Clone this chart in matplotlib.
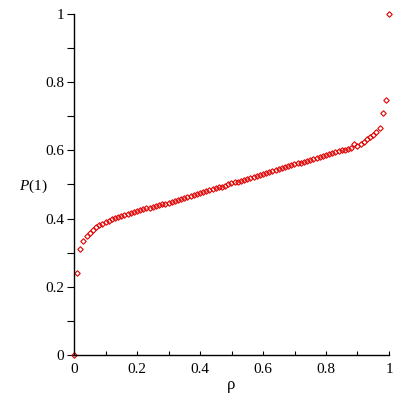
import matplotlib
matplotlib.use("Agg")
import matplotlib.pyplot as plt
from matplotlib.ticker import MultipleLocator

rho = [i / 100 for i in range(101)]
p1 = [0.0, 0.240, 0.310, 0.333, 0.348, 0.358, 0.367, 0.374, 0.380, 0.385,
      0.390, 0.394, 0.398, 0.402, 0.405, 0.409, 0.412, 0.414, 0.417, 0.420,
      0.422, 0.425, 0.427, 0.430, 0.432, 0.434, 0.437, 0.439, 0.442, 0.444,
      0.447, 0.450, 0.452, 0.455, 0.458, 0.461, 0.463, 0.466, 0.469, 0.472,
      0.475, 0.478, 0.480, 0.483, 0.486, 0.489, 0.492, 0.494, 0.497, 0.500,
      0.503, 0.506, 0.508, 0.511, 0.514, 0.517, 0.520, 0.522, 0.525, 0.528,
      0.531, 0.534, 0.536, 0.539, 0.542, 0.545, 0.548, 0.550, 0.553, 0.556,
      0.559, 0.562, 0.564, 0.567, 0.570, 0.573, 0.576, 0.578, 0.581, 0.584,
      0.587, 0.590, 0.593, 0.595, 0.598, 0.600, 0.602, 0.604, 0.606, 0.620,
      0.613, 0.619, 0.625, 0.632, 0.638, 0.646, 0.655, 0.667, 0.709, 0.747,
      1.0]

xticks = [0, 0.2, 0.4, 0.6, 0.8, 1]
xticklabels = ["0", "0.2", "0.4", "0.6", "0.8", "1"]
yticks = [0, 0.2, 0.4, 0.6, 0.8, 1]
yticklabels = ["0", "0.2", "0.4", "0.6", "0.8", "1"]

plt.rcParams['font.family'] = ['Liberation Serif', 'DejaVu Serif']
plt.rcParams['mathtext.fontset'] = 'custom'
plt.rcParams['mathtext.rm'] = 'Liberation Serif'
plt.rcParams['mathtext.it'] = 'Liberation Serif:italic'

fig = plt.figure(figsize=(4, 4), dpi=100)
ax = fig.add_axes([74/400, 45/400, (389-74)/400, (355-14)/400])
ax.plot(rho, p1, linestyle='none', marker='D', markersize=2.8,
        markerfacecolor='none', markeredgecolor='#e00000', markeredgewidth=0.8,
        clip_on=False)

ax.set_xlim(0, 1)
ax.set_ylim(0, 1)
for s in ['top', 'right']:
    ax.spines[s].set_visible(False)
for s in ['left', 'bottom']:
    ax.spines[s].set_linewidth(1.0)
    ax.spines[s].set_color('black')

ax.set_xticks(xticks)
ax.set_xticklabels(xticklabels)
ax.set_yticks(yticks)
ax.set_yticklabels(yticklabels)
ax.xaxis.set_minor_locator(MultipleLocator(0.1))
ax.yaxis.set_minor_locator(MultipleLocator(0.1))
ax.tick_params(axis='x', which='both', direction='in', length=3, width=0.8,
               labelsize=11, pad=6)
ax.tick_params(axis='y', which='both', direction='out', length=5, width=0.8,
               labelsize=11, pad=2)

fig.text(33/400, 1 - 186/400, r"$P$(1)", ha='center', va='center', fontsize=11)
fig.text(231/400, 1 - 385/400, "ρ", ha='center', va='center', fontsize=12)

fig.savefig("out.png", dpi=100)
